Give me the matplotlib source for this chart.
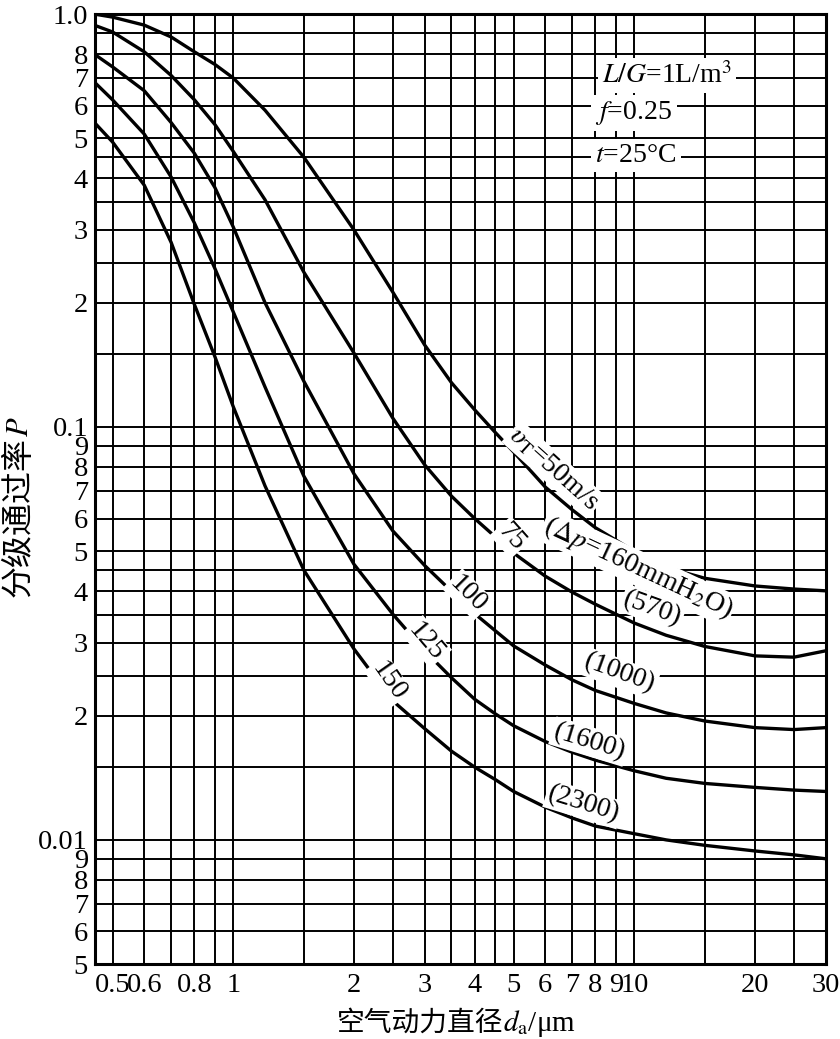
import numpy as np
import matplotlib
matplotlib.use("Agg")
import matplotlib.pyplot as plt
from matplotlib.ticker import FixedLocator, FixedFormatter

plt.rcParams['font.family'] = ['Liberation Serif', 'Noto Sans CJK SC', 'DejaVu Sans']
plt.rcParams['mathtext.fontset'] = 'stix'

# particle aerodynamic diameter (um)
d = [0.45, 0.5, 0.6, 0.7, 0.8, 0.9, 1.0, 1.2, 1.5, 2.0, 2.5, 3.0, 3.5, 4.0,
     4.5, 5.0, 6.0, 7.0, 8.0, 10, 12, 15, 20, 25, 30]

# fractional penetration P for each throat velocity
p_50 = [1.0, 0.983, 0.94, 0.88, 0.81, 0.755, 0.70, 0.585, 0.45, 0.30, 0.212,
        0.158, 0.128, 0.11, 0.097, 0.087, 0.0715, 0.063, 0.057, 0.050, 0.0457,
        0.043, 0.0412, 0.0405, 0.0401]
p_75 = [0.94, 0.905, 0.81, 0.71, 0.62, 0.54, 0.465, 0.355, 0.237, 0.151,
        0.105, 0.081, 0.068, 0.060, 0.0542, 0.0495, 0.0435, 0.0398, 0.0372,
        0.0335, 0.0313, 0.0294, 0.0279, 0.0277, 0.0287]
p_100 = [0.80, 0.745, 0.652, 0.546, 0.46, 0.38, 0.305, 0.20, 0.129, 0.077,
         0.056, 0.0462, 0.040, 0.0353, 0.0321, 0.0295, 0.0265, 0.0244, 0.0230,
         0.0214, 0.0203, 0.0194, 0.0187, 0.0185, 0.0187]
p_125 = [0.685, 0.62, 0.512, 0.403, 0.312, 0.242, 0.19, 0.125, 0.076, 0.0465,
         0.0352, 0.0287, 0.0247, 0.0219, 0.0202, 0.0189, 0.0173, 0.0163,
         0.0156, 0.0147, 0.0141, 0.0137, 0.0134, 0.0132, 0.0131]
p_150 = [0.547, 0.49, 0.385, 0.28, 0.198, 0.148, 0.112, 0.072, 0.045, 0.029,
         0.0217, 0.0186, 0.0164, 0.0150, 0.0140, 0.0131, 0.0120, 0.0113,
         0.0108, 0.01035, 0.0100, 0.0097, 0.0094, 0.0092, 0.0090]

x_grid = [0.5, 0.6, 0.7, 0.8, 0.9, 1, 1.5, 2, 2.5, 3, 3.5, 4, 4.5, 5, 6, 7, 8, 9,
          10, 15, 20, 25, 30]
x_text = {0.5: '0.5', 0.6: '0.6', 0.8: '0.8', 1: '1', 2: '2', 3: '3', 4: '4',
          5: '5', 6: '6', 7: '7', 8: '8', 9: '9', 10: '10', 20: '20', 30: '30'}

y_grid = [1.0, 0.9, 0.8, 0.7, 0.6, 0.5, 0.45, 0.4, 0.35, 0.3, 0.25, 0.2, 0.15,
          0.1, 0.09, 0.08, 0.07, 0.06, 0.05, 0.045, 0.04, 0.035, 0.03, 0.025,
          0.02, 0.015, 0.01, 0.009, 0.008, 0.007, 0.006, 0.005]
y_text = {1.0: '1.0', 0.8: '8', 0.7: '7', 0.6: '6', 0.5: '5', 0.4: '4',
          0.3: '3', 0.2: '2', 0.1: '0.1', 0.09: '9', 0.08: '8', 0.07: '7',
          0.06: '6', 0.05: '5', 0.04: '4', 0.03: '3', 0.02: '2', 0.01: '0.01',
          0.009: '9', 0.008: '8', 0.007: '7', 0.006: '6', 0.005: '5'}

fig = plt.figure(figsize=(8.4, 10.39), dpi=100)
ax = fig.add_axes([0.113, 0.072, 0.870, 0.9145])

for p in [p_50, p_75, p_100, p_125, p_150]:
    ax.plot(d, p, color='black', lw=2.4, zorder=3, solid_joinstyle='round')

ax.set_xscale('log')
ax.set_yscale('log')
ax.set_xlim(0.452, 30)
ax.set_ylim(0.005, 1.0)

ax.xaxis.set_minor_locator(FixedLocator([]))
ax.yaxis.set_minor_locator(FixedLocator([]))
ax.xaxis.set_major_locator(FixedLocator(x_grid))
ax.xaxis.set_major_formatter(FixedFormatter([x_text.get(v, '') for v in x_grid]))
ax.yaxis.set_major_locator(FixedLocator(y_grid))
ax.yaxis.set_major_formatter(FixedFormatter([y_text.get(v, '') for v in y_grid]))
ax.tick_params(which='both', length=0, labelsize=20.5, pad=5)
ax.tick_params(axis='x', pad=6)
ax.grid(True, which='major', color='black', lw=1.4)
ax.set_axisbelow(True)
for s in ax.spines.values():
    s.set_linewidth(2.2)

# axis titles (Chinese part and math part drawn separately)
fig.text(503 / 840, 1 - 1031 / 1039, '空气动力直径', fontsize=20,
         ha='right', va='baseline', family='Noto Sans CJK SC')
fig.text(503 / 840, 1 - 1031 / 1039, r'$d_{\rm a}$/μm', fontsize=21,
         ha='left', va='baseline')
fig.text(19 / 840, 1 - 437 / 1039, '分级通过率', fontsize=23, rotation=90,
         ha='center', va='top', family='Noto Sans CJK SC')
fig.text(21 / 840, 1 - 437 / 1039, r'$P$', fontsize=22, rotation=90,
         ha='center', va='bottom')

box = dict(facecolor='white', edgecolor='none', pad=1.5)
lab = dict(fontsize=20, ha='center', va='center', bbox=box, zorder=4,
           rotation_mode='anchor')

ax.text(6.3, 0.079, r'$\upsilon_{\rm T}$=50m/s', rotation=-42, **lab)
ax.text(10.2, 0.0455, r'($\Delta p$=160mmH$_2$O)', rotation=-25, **lab)
ax.text(4.92, 0.054, '75', rotation=-48, **lab)
ax.text(3.85, 0.0393, '100', rotation=-45, **lab)
ax.text(3.03, 0.0302, '125', rotation=-50, **lab)
ax.text(2.44, 0.0242, '150', rotation=-55, **lab)
ax.text(11.1, 0.0364, '(570)', rotation=-20, **lab)
ax.text(9.18, 0.0253, '(1000)', rotation=-20, **lab)
ax.text(7.73, 0.0173, '(1600)', rotation=-17, **lab)
ax.text(7.47, 0.0122, '(2300)', rotation=-17, **lab)

info = dict(fontsize=20, ha='left', va='center', zorder=4,
            bbox=dict(facecolor='white', edgecolor='none', pad=3))
ax.text(8.3, 0.71, r'$L/G$=1L/m$^3$', **info)
ax.text(8.0, 0.575, r'$f$=0.25', **info)
ax.text(8.0, 0.455, r'$t$=25°C', **info)

fig.savefig('out.png', dpi=100)
